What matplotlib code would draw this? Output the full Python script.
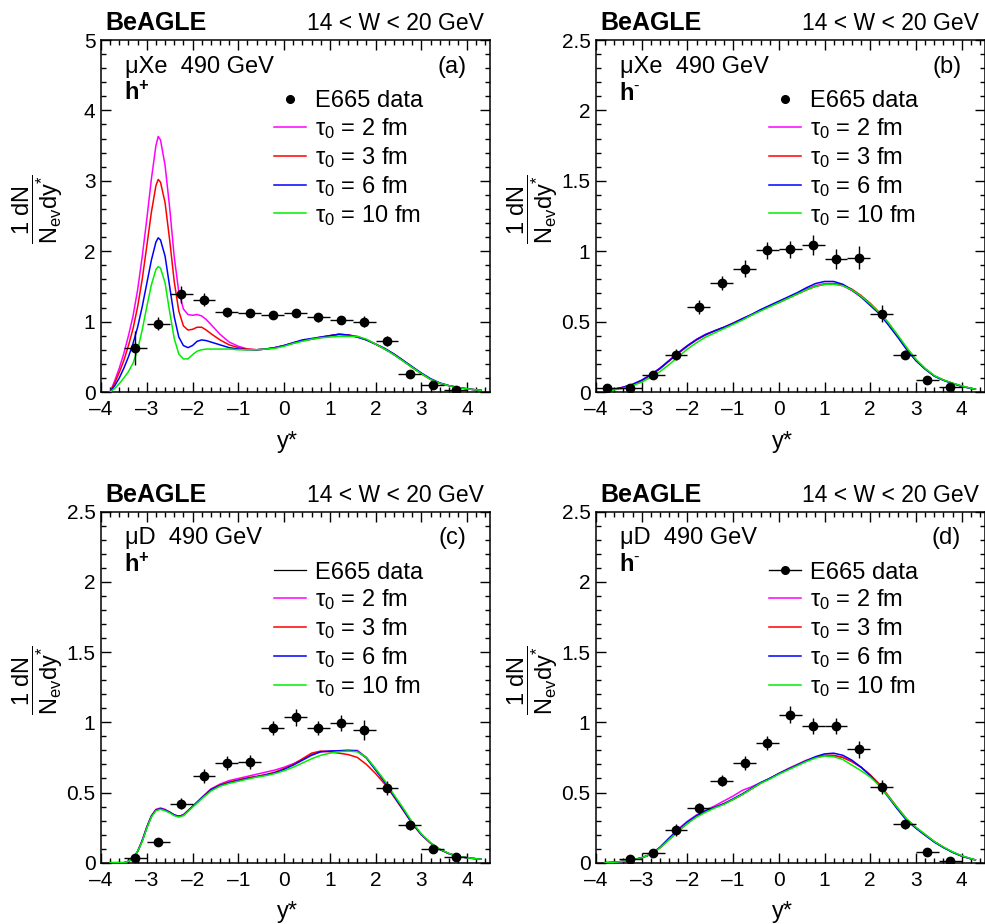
import matplotlib
matplotlib.use("Agg")
import matplotlib.pyplot as plt
from matplotlib.lines import Line2D
from matplotlib.ticker import MultipleLocator, FuncFormatter

plt.rcParams['font.family'] = ['Liberation Sans', 'DejaVu Sans']
plt.rcParams['mathtext.fontset'] = 'custom'
plt.rcParams['mathtext.rm'] = 'Liberation Sans'
plt.rcParams['mathtext.it'] = 'Liberation Sans:italic'
plt.rcParams['mathtext.bf'] = 'Liberation Sans:bold'
plt.rcParams['mathtext.default'] = 'regular'

# ---------------- data ----------------
labels_tau = ["2", "3", "6", "10"]
colors_tau = ["#ff00ff", "#ff0000", "#0000ff", "#00ee00"]

# panel (a): muXe h+
x_data_a = [-3.25, -2.75, -2.25, -1.75, -1.25, -0.75, -0.25, 0.25, 0.75, 1.25, 1.75, 2.25, 2.75, 3.25, 3.75]
y_data_a = [0.63, 0.97, 1.39, 1.31, 1.13, 1.12, 1.09, 1.12, 1.06, 1.02, 1.00, 0.72, 0.25, 0.10, 0.03]
yerr_a = [0.24, 0.09, 0.12, 0.09, 0.06, 0.06, 0.05, 0.05, 0.06, 0.06, 0.08, 0.07, 0.03, 0.03, 0.02]
x_curve_a = [-3.8, -3.7, -3.6, -3.5, -3.4, -3.3, -3.2, -3.1, -3.0, -2.9, -2.8, -2.75, -2.7, -2.6, -2.5,
             -2.4, -2.3, -2.2, -2.1, -2.0, -1.9, -1.8, -1.7, -1.6, -1.4, -1.2, -1.0, -0.8, -0.6,
             -0.4, -0.2, 0.0, 0.2, 0.4, 0.6, 0.8, 1.0, 1.2, 1.4, 1.6, 1.8, 2.0, 2.2, 2.4, 2.6, 2.8,
             3.0, 3.2, 3.4, 3.6, 3.8, 4.0, 4.2, 4.3]
y_tau2_a = [0.00, 0.16, 0.34, 0.55, 0.80, 1.08, 1.45, 1.92, 2.45, 3.02, 3.50, 3.63, 3.58, 3.22, 2.62,
            1.92, 1.42, 1.18, 1.10, 1.09, 1.10, 1.08, 1.03, 0.96, 0.82, 0.71, 0.65, 0.61, 0.60,
            0.61, 0.63, 0.66, 0.69, 0.73, 0.75, 0.77, 0.80, 0.82, 0.81, 0.78, 0.74, 0.68, 0.61, 0.53, 0.44, 0.35,
            0.26, 0.18, 0.125, 0.09, 0.065, 0.045, 0.03, 0.025]
y_tau3_a = [0.00, 0.13, 0.28, 0.45, 0.66, 0.90, 1.21, 1.60, 2.07, 2.55, 2.93, 3.02, 2.98, 2.69, 2.16,
            1.57, 1.15, 0.94, 0.88, 0.89, 0.92, 0.92, 0.88, 0.83, 0.74, 0.67, 0.63, 0.61, 0.60,
            0.61, 0.63, 0.66, 0.70, 0.73, 0.75, 0.78, 0.80, 0.82, 0.81, 0.79, 0.74, 0.68, 0.61, 0.54, 0.45, 0.35,
            0.26, 0.18, 0.125, 0.09, 0.065, 0.045, 0.03, 0.025]
y_tau6_a = [0.00, 0.09, 0.20, 0.34, 0.50, 0.69, 0.92, 1.21, 1.54, 1.87, 2.13, 2.19, 2.16, 1.93, 1.50,
            1.07, 0.78, 0.66, 0.63, 0.66, 0.72, 0.74, 0.73, 0.71, 0.67, 0.63, 0.61, 0.60, 0.60,
            0.61, 0.63, 0.66, 0.70, 0.74, 0.76, 0.78, 0.80, 0.82, 0.81, 0.78, 0.74, 0.68, 0.62, 0.54, 0.45, 0.36,
            0.27, 0.19, 0.13, 0.09, 0.065, 0.045, 0.03, 0.025]
y_tau10_a = [0.00, 0.05, 0.12, 0.20, 0.29, 0.41, 0.60, 0.88, 1.21, 1.52, 1.74, 1.78, 1.76, 1.55, 1.14,
             0.76, 0.54, 0.47, 0.47, 0.53, 0.58, 0.60, 0.61, 0.61, 0.61, 0.61, 0.60, 0.60, 0.60,
             0.61, 0.62, 0.65, 0.69, 0.72, 0.75, 0.77, 0.78, 0.79, 0.79, 0.79, 0.75, 0.68, 0.61, 0.53, 0.44, 0.35,
             0.26, 0.18, 0.125, 0.09, 0.065, 0.045, 0.03, 0.025]

# panel (b): muXe h-
x_data_b = [-3.75, -3.25, -2.75, -2.25, -1.75, -1.25, -0.75, -0.25, 0.25, 0.75, 1.25, 1.75, 2.25, 2.75, 3.25, 3.75]
y_data_b = [0.025, 0.025, 0.12, 0.265, 0.605, 0.775, 0.875, 1.005, 1.015, 1.045, 0.945, 0.955, 0.555, 0.265, 0.085, 0.035]
yerr_b = [0.01, 0.01, 0.02, 0.04, 0.05, 0.05, 0.06, 0.06, 0.06, 0.07, 0.07, 0.08, 0.06, 0.03, 0.02, 0.01]
x_curve_b = [-3.8, -3.6, -3.4, -3.2, -3.0, -2.8, -2.6, -2.4, -2.2, -2.0, -1.8, -1.6, -1.4, -1.2, -1.0,
             -0.8, -0.6, -0.4, -0.2, 0.0, 0.2, 0.4, 0.6, 0.8, 1.0, 1.2, 1.4, 1.6, 1.8, 2.0, 2.2, 2.4,
             2.6, 2.8, 3.0, 3.2, 3.4, 3.6, 3.8, 4.0, 4.2, 4.3]
y_tau2_b = [0.01, 0.02, 0.035, 0.055, 0.085, 0.125, 0.17, 0.225, 0.28, 0.33, 0.375, 0.41, 0.435, 0.46, 0.485,
            0.515, 0.545, 0.58, 0.61, 0.64, 0.67, 0.70, 0.73, 0.755, 0.77, 0.77, 0.755, 0.72, 0.675, 0.62, 0.56, 0.48,
            0.395, 0.305, 0.225, 0.165, 0.115, 0.085, 0.062, 0.042, 0.026, 0.02]
y_tau3_b = [0.01, 0.02, 0.033, 0.052, 0.08, 0.12, 0.165, 0.22, 0.275, 0.325, 0.37, 0.405, 0.435, 0.46, 0.49,
            0.52, 0.55, 0.58, 0.61, 0.635, 0.665, 0.695, 0.725, 0.75, 0.765, 0.77, 0.76, 0.73, 0.685, 0.63, 0.565, 0.49,
            0.40, 0.31, 0.23, 0.165, 0.115, 0.085, 0.062, 0.042, 0.026, 0.02]
y_tau6_b = [0.01, 0.02, 0.034, 0.054, 0.083, 0.122, 0.168, 0.222, 0.278, 0.328, 0.372, 0.408, 0.435, 0.46, 0.488,
            0.52, 0.55, 0.585, 0.615, 0.645, 0.675, 0.705, 0.74, 0.77, 0.785, 0.785, 0.765, 0.725, 0.675, 0.615, 0.555, 0.475,
            0.39, 0.30, 0.222, 0.163, 0.113, 0.083, 0.06, 0.04, 0.025, 0.02]
y_tau10_b = [0.008, 0.015, 0.027, 0.045, 0.07, 0.105, 0.145, 0.195, 0.25, 0.305, 0.35, 0.39, 0.42, 0.45, 0.48,
             0.51, 0.545, 0.575, 0.605, 0.635, 0.665, 0.695, 0.725, 0.75, 0.765, 0.765, 0.755, 0.725, 0.68, 0.625, 0.565, 0.49,
             0.405, 0.315, 0.232, 0.168, 0.117, 0.086, 0.063, 0.043, 0.027, 0.02]

# panel (c): muD h+
x_data_c = [-3.25, -2.75, -2.25, -1.75, -1.25, -0.75, -0.25, 0.25, 0.75, 1.25, 1.75, 2.25, 2.75, 3.25, 3.75]
y_data_c = [0.03, 0.15, 0.42, 0.62, 0.71, 0.72, 0.96, 1.035, 0.96, 0.995, 0.945, 0.535, 0.265, 0.095, 0.043]
yerr_c = [0.01, 0.02, 0.04, 0.05, 0.05, 0.05, 0.05, 0.06, 0.05, 0.06, 0.07, 0.05, 0.03, 0.02, 0.01]
x_curve_c = [-3.8, -3.6, -3.5, -3.4, -3.3, -3.2, -3.1, -3.0, -2.9, -2.8, -2.7, -2.6, -2.5, -2.4, -2.3, -2.2,
             -2.1, -2.0, -1.8, -1.6, -1.4, -1.2, -1.0, -0.8, -0.6, -0.4, -0.2, 0.0, 0.2, 0.4, 0.6, 0.8,
             1.0, 1.2, 1.4, 1.6, 1.8, 2.0, 2.2, 2.4, 2.6, 2.8, 3.0, 3.2, 3.4, 3.6, 3.8, 4.0, 4.2, 4.3]
y_tau2_c = [0.0, 0.0, 0.0, 0.01, 0.03, 0.08, 0.16, 0.255, 0.335, 0.38, 0.39, 0.38, 0.36, 0.34, 0.33, 0.34,
            0.37, 0.40, 0.465, 0.525, 0.56, 0.585, 0.60, 0.615, 0.63, 0.645, 0.66, 0.68, 0.705, 0.735, 0.77, 0.79,
            0.795, 0.798, 0.80, 0.80, 0.75, 0.665, 0.575, 0.475, 0.38, 0.28, 0.20, 0.14, 0.095, 0.065, 0.045, 0.035, 0.028, 0.025]
y_tau3_c = [0.0, 0.0, 0.0, 0.01, 0.03, 0.08, 0.155, 0.25, 0.33, 0.375, 0.385, 0.375, 0.36, 0.34, 0.33, 0.34,
            0.37, 0.40, 0.46, 0.52, 0.555, 0.575, 0.59, 0.605, 0.615, 0.628, 0.645, 0.67, 0.70, 0.74, 0.78, 0.795,
            0.79, 0.78, 0.77, 0.75, 0.70, 0.635, 0.56, 0.47, 0.375, 0.28, 0.20, 0.14, 0.095, 0.065, 0.045, 0.035, 0.028, 0.025]
y_tau6_c = [0.0, 0.0, 0.0, 0.01, 0.03, 0.08, 0.155, 0.25, 0.33, 0.375, 0.385, 0.375, 0.36, 0.34, 0.33, 0.34,
            0.37, 0.40, 0.46, 0.52, 0.55, 0.57, 0.585, 0.60, 0.612, 0.625, 0.64, 0.665, 0.695, 0.73, 0.765, 0.79,
            0.795, 0.797, 0.80, 0.795, 0.745, 0.66, 0.575, 0.475, 0.38, 0.28, 0.20, 0.14, 0.095, 0.065, 0.045, 0.035, 0.028, 0.025]
y_tau10_c = [0.0, 0.0, 0.0, 0.01, 0.03, 0.08, 0.15, 0.245, 0.325, 0.37, 0.38, 0.37, 0.355, 0.335, 0.325, 0.335,
             0.365, 0.395, 0.455, 0.51, 0.545, 0.565, 0.58, 0.595, 0.61, 0.62, 0.635, 0.655, 0.68, 0.71, 0.74, 0.765,
             0.78, 0.79, 0.795, 0.79, 0.75, 0.67, 0.585, 0.485, 0.39, 0.29, 0.205, 0.143, 0.097, 0.066, 0.046, 0.035, 0.028, 0.025]

# panel (d): muD h-
x_data_d = [-3.25, -2.75, -2.25, -1.75, -1.25, -0.75, -0.25, 0.25, 0.75, 1.25, 1.75, 2.25, 2.75, 3.25, 3.75]
y_data_d = [0.024, 0.067, 0.233, 0.387, 0.584, 0.712, 0.855, 1.055, 0.974, 0.974, 0.807, 0.541, 0.273, 0.074, 0.012]
yerr_d = [0.01, 0.02, 0.04, 0.04, 0.04, 0.05, 0.05, 0.06, 0.06, 0.06, 0.06, 0.05, 0.03, 0.02, 0.01]
x_curve_d = [-3.8, -3.6, -3.4, -3.2, -3.0, -2.8, -2.6, -2.4, -2.2, -2.0, -1.8, -1.6, -1.4, -1.2, -1.0,
             -0.8, -0.6, -0.4, -0.2, 0.0, 0.2, 0.4, 0.6, 0.8, 1.0, 1.2, 1.4, 1.6, 1.8, 2.0, 2.2, 2.4,
             2.6, 2.8, 3.0, 3.2, 3.4, 3.6, 3.8, 4.0, 4.2, 4.3]
y_tau2_d = [0.0, 0.003, 0.01, 0.02, 0.035, 0.06, 0.11, 0.175, 0.24, 0.295, 0.34, 0.375, 0.405, 0.44, 0.475,
            0.515, 0.54, 0.57, 0.60, 0.635, 0.67, 0.70, 0.73, 0.75, 0.762, 0.762, 0.75, 0.72, 0.68, 0.625, 0.555, 0.47,
            0.385, 0.305, 0.25, 0.20, 0.15, 0.11, 0.075, 0.048, 0.028, 0.02]
y_tau3_d = [0.0, 0.003, 0.01, 0.02, 0.035, 0.06, 0.105, 0.165, 0.225, 0.28, 0.33, 0.37, 0.395, 0.42, 0.45,
            0.485, 0.525, 0.565, 0.60, 0.635, 0.665, 0.695, 0.725, 0.75, 0.765, 0.765, 0.75, 0.72, 0.68, 0.625, 0.56, 0.475,
            0.39, 0.31, 0.25, 0.20, 0.15, 0.11, 0.075, 0.048, 0.028, 0.02]
y_tau6_d = [0.0, 0.003, 0.01, 0.02, 0.035, 0.06, 0.11, 0.175, 0.235, 0.29, 0.335, 0.37, 0.395, 0.42, 0.455,
            0.49, 0.53, 0.57, 0.60, 0.635, 0.665, 0.695, 0.725, 0.755, 0.775, 0.78, 0.765, 0.73, 0.68, 0.62, 0.55, 0.465,
            0.38, 0.30, 0.245, 0.195, 0.147, 0.108, 0.074, 0.047, 0.028, 0.02]
y_tau10_d = [0.0, 0.003, 0.01, 0.02, 0.035, 0.06, 0.105, 0.165, 0.225, 0.28, 0.325, 0.36, 0.39, 0.415, 0.45,
             0.485, 0.525, 0.565, 0.595, 0.63, 0.66, 0.69, 0.72, 0.745, 0.76, 0.755, 0.735, 0.695, 0.655, 0.61, 0.55, 0.47,
             0.39, 0.31, 0.252, 0.202, 0.152, 0.112, 0.077, 0.05, 0.03, 0.02]

panels = [
    dict(tag="(a)", sys="\u03bcXe  490 GeV", charge=r"$\mathbf{h}^{\mathbf{+}}$", ymax=5, ymaj=1, ymin=0.2,
         xd=x_data_a, yd=y_data_a, ye=yerr_a, xc=x_curve_a, yc=[y_tau2_a, y_tau3_a, y_tau6_a, y_tau10_a],
         leg="marker", rect=[101, 40, 490, 392]),
    dict(tag="(b)", sys="\u03bcXe  490 GeV", charge=r"$\mathbf{h}^{\text{-}}$", ymax=2.5, ymaj=0.5, ymin=0.1,
         xd=x_data_b, yd=y_data_b, ye=yerr_b, xc=x_curve_b, yc=[y_tau2_b, y_tau3_b, y_tau6_b, y_tau10_b],
         leg="marker", rect=[596, 40, 984.5, 392]),
    dict(tag="(c)", sys="\u03bcD  490 GeV", charge=r"$\mathbf{h}^{\mathbf{+}}$", ymax=2.5, ymaj=0.5, ymin=0.1,
         xd=x_data_c, yd=y_data_c, ye=yerr_c, xc=x_curve_c, yc=[y_tau2_c, y_tau3_c, y_tau6_c, y_tau10_c],
         leg="line", rect=[101, 511.7, 490, 862.7]),
    dict(tag="(d)", sys="\u03bcD  490 GeV", charge=r"$\mathbf{h}^{\text{-}}$", ymax=2.5, ymaj=0.5, ymin=0.1,
         xd=x_data_d, yd=y_data_d, ye=yerr_d, xc=x_curve_d, yc=[y_tau2_d, y_tau3_d, y_tau6_d, y_tau10_d],
         leg="both", rect=[596, 511.7, 984.5, 862.7]),
]

W, H = 985, 924
fig = plt.figure(figsize=(W / 100, H / 100), dpi=100)

fmt = FuncFormatter(lambda v, p: ("%g" % v).replace("-", "\u2013"))

for p in panels:
    x0, y0, x1, y1 = p["rect"]
    ax = fig.add_axes([x0 / W, 1 - y1 / H, (x1 - x0) / W, (y1 - y0) / H])
    ax.set_xlim(-4, 4.5)
    ax.set_ylim(0, p["ymax"])
    ax.xaxis.set_major_locator(MultipleLocator(1))
    ax.xaxis.set_minor_locator(MultipleLocator(0.2))
    ax.yaxis.set_major_locator(MultipleLocator(p["ymaj"]))
    ax.yaxis.set_minor_locator(MultipleLocator(p["ymin"]))
    ax.xaxis.set_major_formatter(fmt)
    ax.yaxis.set_major_formatter(fmt)
    ax.tick_params(which="both", direction="in", top=True, right=True, width=1.0, labelsize=15)
    ax.tick_params(which="major", length=7.2)
    ax.tick_params(which="minor", length=3.8)
    ax.tick_params(axis="x", pad=6)
    ax.tick_params(axis="y", pad=4)
    for s in ax.spines.values():
        s.set_linewidth(1.1)

    handles = []
    if p["leg"] == "marker":
        handles.append(Line2D([], [], ls="none", marker="o", color="k", ms=5.5))
    elif p["leg"] == "line":
        handles.append(Line2D([], [], color="k", lw=0.9))
    else:
        handles.append(Line2D([], [], color="k", lw=1.0, marker="o", ms=5.5))
    labels = ["E665 data"]

    for yc, lab, col in zip(p["yc"], labels_tau, colors_tau):
        ax.plot(p["xc"], yc, color=col, lw=1.1, zorder=3)
        handles.append(Line2D([], [], color=col, lw=1.1))
        labels.append("\u03c4$_{0}$ = %s fm" % lab)

    ax.errorbar(p["xd"], p["yd"], xerr=0.25, yerr=p["ye"], fmt="o", color="k", ms=6,
                elinewidth=1.0, capsize=0, zorder=5)

    ax.set_xlabel("y*", fontsize=17)
    ax.xaxis.set_label_coords(0.48, -0.11)
    ax.set_ylabel(r"$\dfrac{1\ dN}{N_{ev}dy^{*}}$", fontsize=17)
    ax.yaxis.set_label_coords(-0.092, 0.52)

    ax.text(0.01, 1.028, "BeAGLE", transform=ax.transAxes, fontsize=18, fontweight="bold",
            ha="left", va="baseline")
    ax.text(0.985, 1.028, "14 < W < 20 GeV", transform=ax.transAxes, fontsize=16.5,
            ha="right", va="baseline")
    ax.text(0.062, 0.907, p["sys"], transform=ax.transAxes, fontsize=17, ha="left", va="baseline")
    ax.text(0.058, 0.83, p["charge"], transform=ax.transAxes, fontsize=17, ha="left", va="baseline")
    ax.text(0.94, 0.907, p["tag"], transform=ax.transAxes, fontsize=17, ha="right", va="baseline")

    ax.legend(handles, labels, loc="upper left", bbox_to_anchor=(0.445, 0.858), frameon=False,
              fontsize=17, handlelength=1.35, handletextpad=0.4, labelspacing=0.17,
              borderaxespad=0, borderpad=0)

fig.savefig("out.png", dpi=100)
